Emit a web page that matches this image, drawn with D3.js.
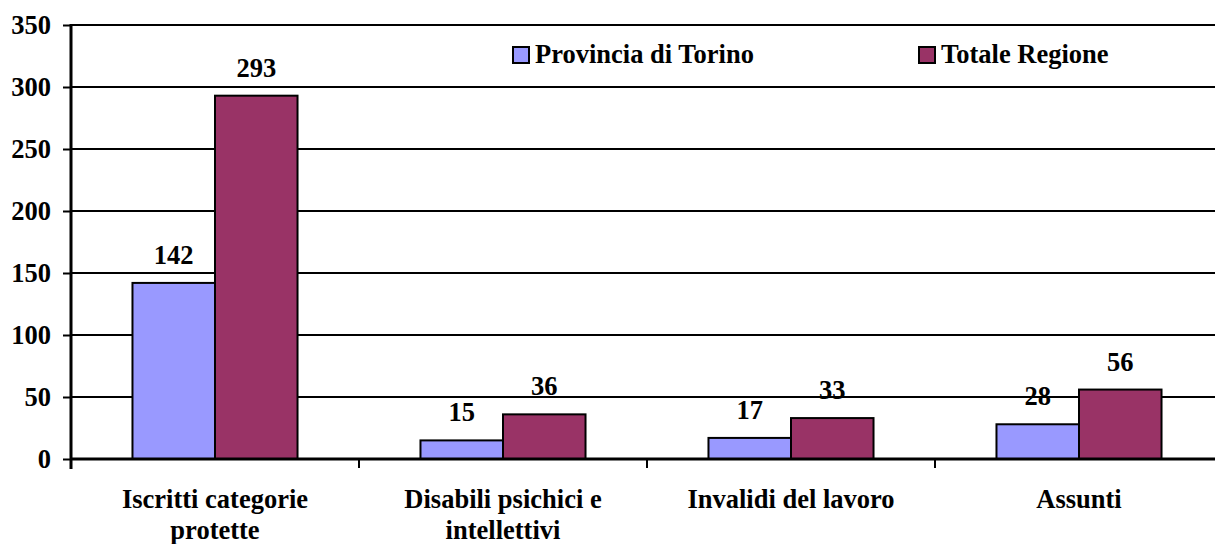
<!DOCTYPE html>
<html>
<head>
<meta charset="utf-8">
<script src="https://cdn.jsdelivr.net/npm/d3@7"></script>
<style>
  body { margin: 0; background: #fff; }
  svg { display: block; }
  text { font-family: "Liberation Serif", "Times New Roman", serif; font-weight: bold; fill: #000; }
</style>
</head>
<body>
<svg id="chart" width="1215" height="544"></svg>
<script>
// data
var categories = [["Iscritti categorie", "protette"], ["Disabili psichici e", "intellettivi"], ["Invalidi del lavoro"], ["Assunti"]];
var series = ["Provincia di Torino", "Totale Regione"];
var provincia = [142, 15, 17, 28];
var regione = [293, 36, 33, 56];
var yTicks = [0, 50, 100, 150, 200, 250, 300, 350];

var colors = ["#9999ff", "#993366"];
var values = [provincia, regione];
var fontSize = "26.5px";

var svg = d3.select("#chart");
var plotLeft = 71, plotRight = 1223, plotTop = 25, plotBottom = 459;

var x0 = d3.scaleBand()
  .domain(d3.range(categories.length))
  .range([plotLeft, plotRight])
  .paddingInner(0).paddingOuter(0);

var x1 = d3.scaleBand()
  .domain(series)
  .range([0, x0.bandwidth()])
  .paddingInner(0).paddingOuter(0.745);

var y = d3.scaleLinear().domain([0, 350]).range([plotBottom, plotTop]);

// gridlines
svg.append("g")
  .selectAll("line")
  .data(yTicks)
  .enter()
  .append("line")
  .attr("x1", plotLeft).attr("x2", plotRight)
  .attr("y1", function(d) { return y(d); })
  .attr("y2", function(d) { return y(d); })
  .attr("stroke", "#000")
  .attr("stroke-width", 2);

// bars
var groups = svg.append("g")
  .selectAll("g")
  .data(categories)
  .enter()
  .append("g")
  .attr("transform", function(d, i) { return "translate(" + x0(i) + ",0)"; });

groups.each(function(c, i) {
  var g = d3.select(this);
  series.forEach(function(s, j) {
    var v = values[j][i];
    g.append("rect")
      .attr("x", x1(s))
      .attr("y", y(v))
      .attr("width", x1.bandwidth())
      .attr("height", y(0) - y(v))
      .attr("fill", colors[j])
      .attr("stroke", "#000")
      .attr("stroke-width", 2);
    g.append("text")
      .attr("x", x1(s) + x1.bandwidth() / 2)
      .attr("y", y(v) - 19)
      .attr("text-anchor", "middle")
      .style("font-size", fontSize)
      .text(v);
  });
});

// y axis
var yAxis = svg.append("g")
  .attr("transform", "translate(" + plotLeft + ",0)")
  .call(d3.axisLeft(y).tickValues(yTicks).tickSize(8).tickPadding(12));
yAxis.select(".domain").attr("stroke-width", 3).attr("d", "M0," + (plotTop - 1) + "V" + (plotBottom + 10));
yAxis.selectAll(".tick line").attr("stroke-width", 2);
yAxis.selectAll(".tick text").style("font-size", fontSize).style("font-family", "'Liberation Serif', serif");

// x axis line and ticks
svg.append("line")
  .attr("x1", plotLeft).attr("x2", plotRight)
  .attr("y1", plotBottom).attr("y2", plotBottom)
  .attr("stroke", "#000").attr("stroke-width", 3);

svg.append("g")
  .selectAll("line")
  .data(d3.range(categories.length + 1))
  .enter()
  .append("line")
  .attr("x1", function(i) { return i < categories.length ? x0(i) : plotRight; })
  .attr("x2", function(i) { return i < categories.length ? x0(i) : plotRight; })
  .attr("y1", plotBottom).attr("y2", plotBottom + 9)
  .attr("stroke", "#000").attr("stroke-width", 2);

// category labels
var labels = svg.append("g")
  .selectAll("text")
  .data(categories)
  .enter()
  .append("text")
  .attr("text-anchor", "middle")
  .style("font-size", fontSize)
  .attr("transform", function(d, i) { return "translate(" + (x0(i) + x0.bandwidth() / 2) + ",508)"; });

labels.selectAll("tspan")
  .data(function(d) { return d; })
  .enter()
  .append("tspan")
  .attr("x", 0)
  .attr("y", function(d, i) { return i * 31; })
  .text(function(d) { return d; });

// legend
var legendX = [512, 918];
var legend = svg.append("g")
  .selectAll("g")
  .data(series)
  .enter()
  .append("g")
  .attr("transform", function(d, i) { return "translate(" + legendX[i] + ",46)"; });

legend.append("rect")
  .attr("x", 1).attr("y", 1)
  .attr("width", 16).attr("height", 16)
  .attr("fill", function(d, i) { return colors[i]; })
  .attr("stroke", "#000")
  .attr("stroke-width", 2);

legend.append("text")
  .attr("x", 23)
  .attr("y", 17)
  .style("font-size", fontSize)
  .text(function(d) { return d; });
</script>
</body>
</html>
